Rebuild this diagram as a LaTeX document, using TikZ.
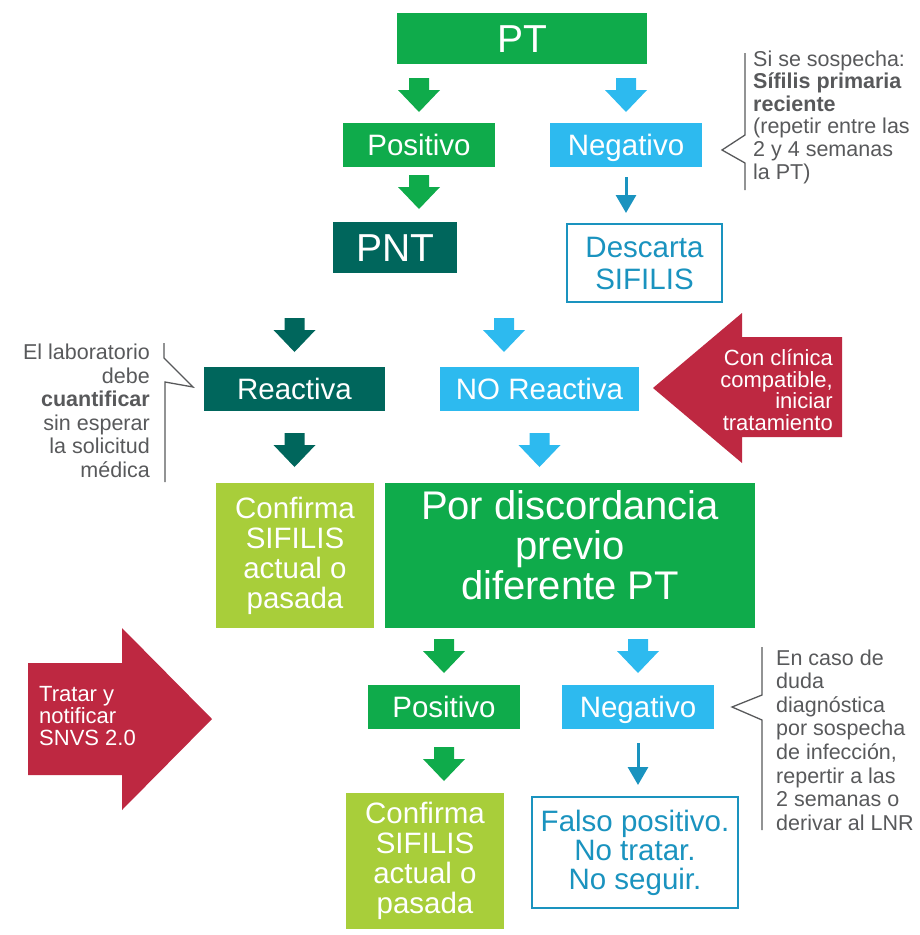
\documentclass[tikz,border=0pt]{standalone}
\usepackage{fontspec}
\setmainfont{Liberation Sans}
\usetikzlibrary{arrows.meta}
\definecolor{cgreen}{HTML}{0FAB4B}
\definecolor{cteal}{HTML}{00665C}
\definecolor{clblue}{HTML}{2DBAEF}
\definecolor{cdblue}{HTML}{1A93BF}
\definecolor{clime}{HTML}{A8CE3A}
\definecolor{cred}{HTML}{BE2841}
\definecolor{cgray}{HTML}{58595B}
\newcommand\fszBig{\fontsize{39}{40}\selectfont}
\newcommand\fszBox{\fontsize{29.5}{30}\selectfont}
\newcommand\fszPor{\fontsize{40}{40}\selectfont}
\newcommand\fszRed{\fontsize{22}{21.8}\selectfont}
\tikzset{
  box/.style={inner sep=0pt, text=white, align=center},
  oneline/.style={box, text height=21.1pt, text depth=0pt, font=\fszBox},
  bigline/.style={box, text height=27.9pt, text depth=0pt, font=\fszBig},
  outbox/.style={inner sep=0pt, draw=cdblue, line width=2pt, fill=white, text=cdblue, align=center},
  note/.style={inner sep=0pt, text=cgray},
  bracket/.style={draw=cgray, line width=1.3pt},
  thinarr/.style={draw=cdblue, line width=3pt, -{Triangle[width=20pt,length=18pt]}},
  pics/fatarr/.style={code={\fill[#1] (-10,0)--(10,0)--(10,12)--(21,12)--(0,34)--(-21,12)--(-10,12)--cycle;}}
}
\begin{document}
\begin{tikzpicture}[x=1pt,y=-1pt]
\useasboundingbox (0,0) rectangle (919,935);
% top row
\node[bigline, fill=cgreen, minimum width=250pt, minimum height=51pt] (pt) at (522,38.5) {PT};
\pic at (419,78) {fatarr=cgreen};
\pic at (626,78) {fatarr=clblue};
\node[oneline, fill=cgreen, minimum width=152pt, minimum height=44pt] (pos1) at (419,145) {Positivo};
\node[oneline, fill=clblue, minimum width=152pt, minimum height=44pt] (neg1) at (626,145) {Negativo};
\pic at (419,175) {fatarr=cgreen};
\node[bigline, fill=cteal, minimum width=124pt, minimum height=51pt] (pnt) at (395,247.5) {PNT};
\node[outbox, minimum width=155pt, minimum height=78pt, font=\fontsize{29.5}{32}\selectfont] (desc) at (644.5,263) {Descarta\\SIFILIS};
\draw[thinarr, shorten <=10pt, shorten >=10pt] (neg1.south) -- (neg1.south |- desc.north);
% note top right
\node[note, anchor=west, align=left, font=\fontsize{21.5}{22.6}\selectfont] (note1) at (753,117) {Si se sospecha:\\\textbf{Sífilis primaria}\\\textbf{reciente}\\(repetir entre las\\2 y 4 semanas\\la PT)};
\draw[bracket] (745,53) -- (745,135) -- (722,150) -- (745,163) -- (745,190);
% reactiva row
\pic at (294.5,318) {fatarr=cteal};
\pic at (504,318) {fatarr=clblue};
\node[oneline, fill=cteal, minimum width=181pt, minimum height=44pt] (rea) at (294.5,389) {Reactiva};
\node[oneline, fill=clblue, minimum width=199pt, minimum height=44pt] (nrea) at (539.5,389) {NO Reactiva};
% left note
\node[note, anchor=east, align=right, font=\fontsize{21.5}{23.5}\selectfont] (note2) at (150,411) {El laboratorio\\debe\\\textbf{cuantificar}\\sin esperar\\la solicitud\\médica};
\draw[bracket] (164,343) -- (164,358) -- (193,387) -- (165,382) -- (165,482);
% red arrow right
\fill[cred] (653,388) -- (742,313) -- (742,337) -- (842,337) -- (842,437) -- (742,437) -- (742,463) -- cycle;
\node[box, anchor=east, align=right, font=\fszRed] (clin) at (833,390) {Con clínica\\compatible,\\iniciar\\tratamiento};
\pic at (294.5,433) {fatarr=cteal};
\pic at (539.5,433) {fatarr=clblue};
% confirm / discordancia
\node[box, fill=clime, minimum width=158pt, minimum height=145pt, font=\fszBox] (conf1) at (295,555.5) {Confirma\\SIFILIS\\actual o\\pasada};
\node[box, fill=cgreen, minimum width=370pt, minimum height=145pt] (por) at (570,555.5) {};
\node[box, font=\fszPor] (portext) at (570,545) {Por discordancia\\previo\\diferente PT};
% bottom
\pic at (444,639) {fatarr=cgreen};
\pic at (638,639) {fatarr=clblue};
\node[oneline, fill=cgreen, minimum width=152pt, minimum height=44pt] (pos2) at (444,707) {Positivo};
\node[oneline, fill=clblue, minimum width=152pt, minimum height=44pt] (neg2) at (638,707) {Negativo};
\pic at (444,747) {fatarr=cgreen};
\node[box, fill=clime, minimum width=158pt, minimum height=136pt, font=\fszBox] (conf2) at (425,861) {Confirma\\SIFILIS\\actual o\\pasada};
\node[outbox, minimum width=206pt, minimum height=111pt, font=\fontsize{29.5}{29}\selectfont] (falso) at (635,852.5) {Falso positivo.\\No tratar.\\No seguir.};
\draw[thinarr, shorten <=14pt, shorten >=11pt] (neg2.south) -- (neg2.south |- falso.north);
% red arrow left
\fill[cred] (212,719) -- (122,628) -- (122,663) -- (28,663) -- (28,775) -- (122,775) -- (122,810) -- cycle;
\node[box, anchor=west, align=left, font=\fszRed] (trat) at (39,716) {Tratar y\\notificar\\SNVS 2.0};
% bottom right note
\node[note, anchor=west, align=left, font=\fontsize{21.5}{23.6}\selectfont] (note3) at (776,740) {En caso de\\duda\\diagnóstica\\por sospecha\\de infección,\\repertir a las\\2 semanas o\\derivar al LNR};
\draw[bracket] (762,647) -- (762,695) -- (732,707) -- (762,720) -- (762,830);
\end{tikzpicture}
\end{document}
